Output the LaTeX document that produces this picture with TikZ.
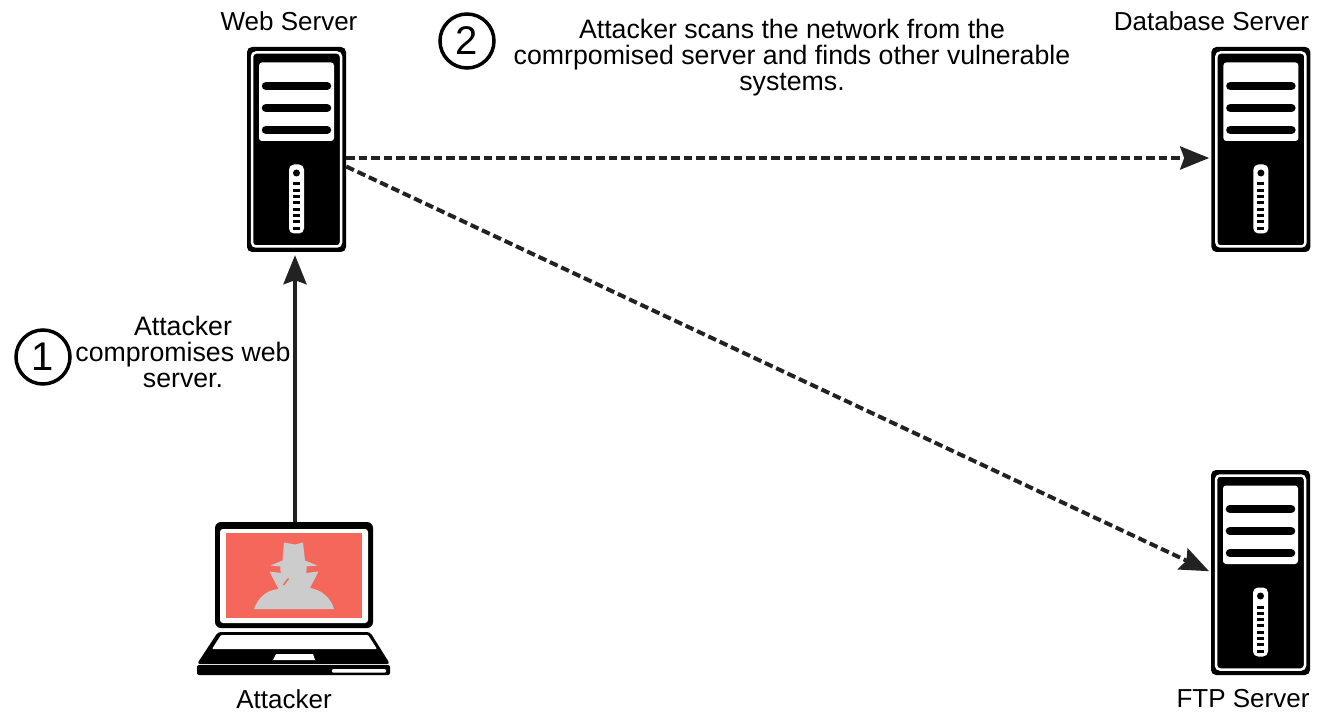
\documentclass[tikz,border=0pt]{standalone}
\usepackage{fontspec}
\setmainfont{Liberation Sans}
\usetikzlibrary{positioning, arrows.meta}
\definecolor{Salmon}{HTML}{F4675A}
\definecolor{Spy}{HTML}{CCCCCC}
\definecolor{Wire}{HTML}{222222}
\tikzset{
  box/.style={rectangle, draw=none, fill=none, minimum width=98pt, minimum height=205pt, inner sep=0pt},
  lapbox/.style={rectangle, draw=none, fill=none, minimum width=193pt, minimum height=153pt, inner sep=0pt},
  lbl/.style={font=\fontsize{26}{26}\selectfont, align=center, inner sep=0pt},
  txt/.style={font=\fontsize{26.7}{26}\selectfont, align=center, inner sep=0pt},
  num/.style={circle, draw=black, line width=3.5pt, fill=none, minimum size=54pt, inner sep=0pt, font=\fontsize{40}{40}\selectfont},
  wire/.style={Wire, line width=4pt, shorten >=3pt, -{Stealth[length=29pt,width=23pt,inset=4pt]}},
  dashwire/.style={wire, dash pattern=on 8.5pt off 4pt},
  pics/server/.style={code={
    \fill[black, rounded corners=5pt] (-50,-102.5) rectangle (49,102.5);
    \draw[white, line width=2.5pt, rounded corners=4pt] (-45,-97) rectangle (44,97);
    \fill[white, rounded corners=3pt] (-38,-87) rectangle (37,-8.5);
    \foreach \y in {-63.5,-41.5,-19.5}
      \draw[black, line width=8.5pt, line cap=round] (-31,\y) -- (30,\y);
    \fill[white, rounded corners=5pt] (-8,15) rectangle (7,84);
    \fill[black] (-0.5,23.5) circle (3.5pt);
    \foreach \i in {0,...,7}
      \fill[black] (-4,{33+6.3*\i}) rectangle (3,{36+6.3*\i});
  }}
}
\begin{document}
\begin{tikzpicture}[x=1pt, y=-1pt]
  \useasboundingbox (0,0) rectangle (1323,722);

  \node[box] (webserver) at (297,149.5) {};
  \node[box] (dbserver) [right = 866pt of webserver] {};
  \node[box] (ftpserver) at (1261,572.5) {};
  \node[lapbox] (laptop) at (294,598.5) {};

  \pic at (webserver) {server};
  \pic at (dbserver) {server};
  \pic at (ftpserver) {server};

  % laptop
  \fill[black, rounded corners=6pt] (215,522) rectangle (373,628);
  \fill[white, rounded corners=3pt] (220,529) rectangle (368,623);
  \fill[Salmon] (226,533) rectangle (362,618);
  \fill[Spy] (284,542.5) -- (295,544.5) -- (303,542.5) -- (305,560.5) -- (317.5,565.5) -- (306.5,566.5)
    .. controls (307,569) and (306.5,571) .. (306,573) -- (318.5,571.5) -- (310,588)
    .. controls (322,590) and (331,598) .. (334,609) -- (254,609)
    .. controls (258,598) and (266,590) .. (278.5,589) -- (269.5,571.5) -- (281,573)
    .. controls (280.5,571) and (280,569) .. (280.5,566.5) -- (270.5,565.5) -- (282.5,560.5) -- cycle;
  \draw[Salmon, line width=1.5pt] (283.5,585) -- (288.5,578.5);
  \fill[black, rounded corners=3pt] (218,632) -- (370,632) -- (390,664) -- (197,664) -- cycle;
  \fill[black, rounded corners=2pt] (197,665) rectangle (390,675);
  \fill[white, rounded corners=1pt] (221,635) -- (368,635) -- (377,649) -- (212,649) -- cycle;
  \fill[white] (276,654) -- (313,654) -- (315,660) -- (273,660) -- cycle;
  \fill[white, rounded corners=1pt] (332,669) rectangle (386,672.5);

  \draw[wire] ([xshift=1pt]laptop.north) -- ([xshift=1pt]laptop.north |- webserver.south);
  \draw[dashwire] ([yshift=-8.5pt]webserver.east) -- ([yshift=-8.5pt]dbserver.west);
  \draw[dashwire] ([yshift=-17pt]webserver.east) -- (ftpserver.west);

  \node[lbl] (weblabel) [above = 16pt of webserver, xshift=-8pt] {Web Server};
  \node[lbl] (dblabel) [above = 16pt of dbserver, xshift=-50pt] {Database Server};
  \node[lbl] (ftplabel) [below = 14pt of ftpserver, xshift=-18pt] {FTP Server};
  \node[lbl] (laplabel) [below = 14pt of laptop, xshift=-10pt] {Attacker};

  \node[num] (one) at (43,357) {1};
  \node[num] (two) at (467,41) {2};
  \node[txt] (onetext) at (183,352) {Attacker\\compromises web\\server.};
  \node[txt] (twotext) at (792,58) {Attacker scans the network from the\\comrpomised server and finds other vulnerable\\systems.};
\end{tikzpicture}
\end{document}
